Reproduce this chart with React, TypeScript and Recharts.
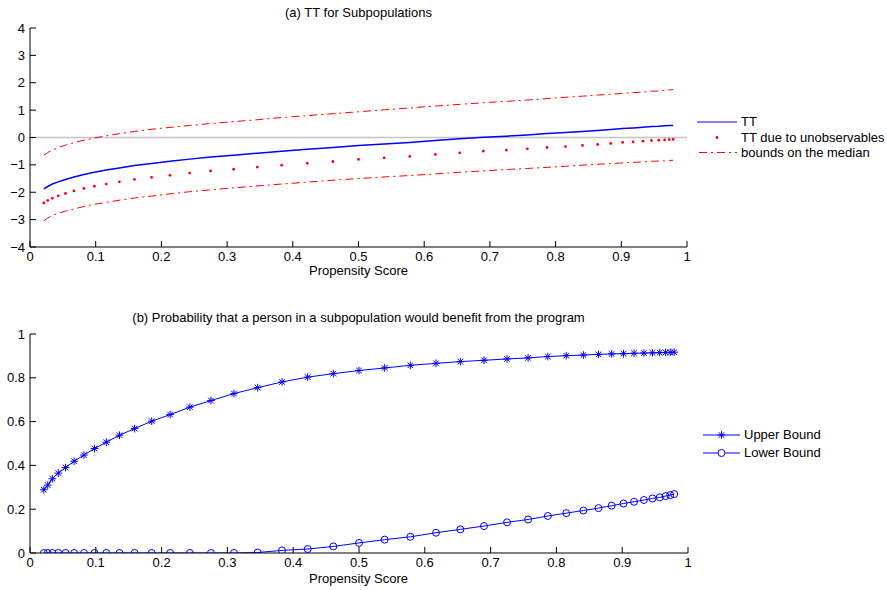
import React from 'react';
import { LineChart, Line, XAxis, YAxis, ReferenceLine } from 'recharts';

const propensity = [0.021, 0.027, 0.034, 0.043, 0.054, 0.067, 0.082, 0.098, 0.116, 0.136, 0.159, 0.185, 0.213, 0.243, 0.275, 0.31, 0.346, 0.383, 0.422, 0.461, 0.5, 0.539, 0.578, 0.617, 0.654, 0.69, 0.725, 0.757, 0.787, 0.815, 0.841, 0.864, 0.884, 0.902, 0.918, 0.933, 0.946, 0.957, 0.966, 0.973, 0.979];

const ttValues = [-1.88, -1.79, -1.7, -1.62, -1.535, -1.44, -1.35, -1.27, -1.19, -1.11, -1.02, -0.95, -0.87, -0.79, -0.71, -0.65, -0.575, -0.5, -0.43, -0.365, -0.29, -0.235, -0.18, -0.11, -0.05, 0.01, 0.05, 0.095, 0.145, 0.18, 0.22, 0.255, 0.29, 0.33, 0.35, 0.375, 0.4, 0.41, 0.425, 0.435, 0.44];

const ttUnobservables = [-2.39, -2.3, -2.215, -2.13, -2.045, -1.95, -1.86, -1.78, -1.7, -1.62, -1.53, -1.46, -1.38, -1.3, -1.22, -1.16, -1.08, -1.01, -0.938, -0.876, -0.8, -0.744, -0.69, -0.62, -0.56, -0.5, -0.46, -0.415, -0.365, -0.33, -0.29, -0.255, -0.22, -0.18, -0.16, -0.135, -0.11, -0.1, -0.087, -0.075, -0.07];

const medianUpper = [-0.65, -0.55, -0.46, -0.37, -0.28, -0.19, -0.1, -0.02, 0.06, 0.14, 0.22, 0.3, 0.37, 0.44, 0.51, 0.58, 0.65, 0.73, 0.8, 0.87, 0.94, 1.01, 1.08, 1.15, 1.21, 1.27, 1.32, 1.37, 1.42, 1.47, 1.51, 1.55, 1.58, 1.61, 1.64, 1.66, 1.69, 1.7, 1.72, 1.74, 1.75];

const medianLower = [-3.04, -2.94, -2.85, -2.77, -2.69, -2.61, -2.52, -2.44, -2.37, -2.29, -2.21, -2.14, -2.06, -1.98, -1.91, -1.84, -1.77, -1.7, -1.63, -1.56, -1.5, -1.44, -1.39, -1.33, -1.27, -1.22, -1.17, -1.13, -1.09, -1.05, -1.01, -0.98, -0.95, -0.93, -0.91, -0.89, -0.87, -0.86, -0.85, -0.84, -0.83];

const benefitUpper = [0.289, 0.31, 0.339, 0.365, 0.39, 0.419, 0.447, 0.477, 0.506, 0.538, 0.568, 0.602, 0.632, 0.666, 0.696, 0.728, 0.755, 0.781, 0.803, 0.819, 0.833, 0.845, 0.857, 0.866, 0.874, 0.88, 0.886, 0.891, 0.897, 0.901, 0.904, 0.907, 0.909, 0.91, 0.912, 0.913, 0.914, 0.915, 0.916, 0.916, 0.917];

const benefitLower = [0, 0, 0, 0, 0, 0, 0, 0, 0, 0, 0, 0, 0, 0, 0, 0, 0.002, 0.012, 0.018, 0.03, 0.046, 0.061, 0.074, 0.0925, 0.108, 0.123, 0.14, 0.153, 0.169, 0.182, 0.194, 0.205, 0.216, 0.226, 0.234, 0.242, 0.249, 0.254, 0.26, 0.2645, 0.269];

const xTicks = [0, 0.1, 0.2, 0.3, 0.4, 0.5, 0.6, 0.7, 0.8, 0.9, 1];
const yTicksTop = [-4, -3, -2, -1, 0, 1, 2, 3, 4];
const yTicksBottom = [0, 0.2, 0.4, 0.6, 0.8, 1];

const titleTop = '(a) TT for Subpopulations';
const titleBottom = '(b) Probability that a person in a subpopulation would benefit from the program';
const xLabel = 'Propensity Score';
const legendTop = ['TT', 'TT due to unobservables', 'bounds on the median'];
const legendBottom = ['Upper Bound', 'Lower Bound'];

const topData = propensity.map((x, i) => ({
  x,
  tt: ttValues[i],
  ttu: ttUnobservables[i],
  ub: medianUpper[i],
  lb: medianLower[i],
}));

const bottomData = propensity.map((x, i) => ({
  x,
  upper: benefitUpper[i],
  lower: benefitLower[i],
}));

const FONT = '"Liberation Sans", Arial, Helvetica, sans-serif';
const FS = 13;
const AXIS = '#000';
const BLUE = '#0000ff';
const RED = '#ff0000';
const TM = 5;
const TICK_LEN = 6;

const fmt = (v: number) => {
  const s = String(Math.round(v * 10) / 10);
  return s.replace('-', '\u2212');
};

const XTick = (props: any) => {
  const { x, y, payload } = props;
  const ay = y - TM;
  return (
    <g>
      <line x1={x} x2={x} y1={ay} y2={ay - TICK_LEN} stroke={AXIS} strokeWidth={1} />
      <text x={x} y={y} dy="0.71em" textAnchor="middle" fontSize={FS} fontFamily={FONT} fill="#000">
        {fmt(payload.value)}
      </text>
    </g>
  );
};

const YTick = (props: any) => {
  const { x, y, payload } = props;
  const ax = x + TM;
  return (
    <g>
      <line x1={ax} x2={ax + TICK_LEN} y1={y} y2={y} stroke={AXIS} strokeWidth={1} />
      <text x={x} y={y} dy="0.355em" textAnchor="end" fontSize={FS} fontFamily={FONT} fill="#000">
        {fmt(payload.value)}
      </text>
    </g>
  );
};

const RedDot = (props: any) => {
  const { cx, cy, index } = props;
  if (cx == null || cy == null) return <g key={index} />;
  return <circle key={index} cx={cx} cy={cy} r={1.4} fill={RED} stroke="none" />;
};

const Star = (props: any) => {
  const { cx, cy, index } = props;
  if (cx == null || cy == null) return <g key={index} />;
  const a = 3.8;
  const d = 2.8;
  return (
    <g key={index} stroke={BLUE} strokeWidth={1}>
      <line x1={cx - a} x2={cx + a} y1={cy} y2={cy} />
      <line x1={cx} x2={cx} y1={cy - a} y2={cy + a} />
      <line x1={cx - d} x2={cx + d} y1={cy - d} y2={cy + d} />
      <line x1={cx - d} x2={cx + d} y1={cy + d} y2={cy - d} />
    </g>
  );
};

const Ring = (props: any) => {
  const { cx, cy, index } = props;
  if (cx == null || cy == null) return <g key={index} />;
  return <circle key={index} cx={cx} cy={cy} r={3.5} fill="none" stroke={BLUE} strokeWidth={1} />;
};

const textStyle: React.CSSProperties = {
  position: 'absolute',
  fontFamily: FONT,
  fontSize: FS,
  color: '#000',
  whiteSpace: 'nowrap',
  lineHeight: '15px',
};

const DASHDOT = '8 4 2 4';

export default function App() {
  return (
    <div style={{ position: 'absolute', left: 0, top: 0, width: 887, height: 590, background: '#fff', overflow: 'hidden' }}>
      <div style={{ ...textStyle, left: 30, width: 657, top: 5, textAlign: 'center' }}>{titleTop}</div>
      <div style={{ position: 'absolute', left: 0, top: 0 }}>
        <LineChart width={887} height={300} data={topData} margin={{ top: 28, right: 200, left: 0, bottom: 0 }}>
          <XAxis
            type="number"
            dataKey="x"
            domain={[0, 1]}
            ticks={xTicks}
            interval={0}
            height={53}
            tickSize={0}
            tickMargin={TM}
            tickLine={false}
            axisLine={{ stroke: AXIS, strokeWidth: 1 }}
            tick={<XTick />}
            allowDataOverflow
          />
          <YAxis
            type="number"
            domain={[-4, 4]}
            ticks={yTicksTop}
            interval={0}
            width={30}
            tickSize={0}
            tickMargin={TM}
            tickLine={false}
            axisLine={{ stroke: AXIS, strokeWidth: 1 }}
            tick={<YTick />}
            allowDataOverflow
          />
          <ReferenceLine y={0} stroke="#c4c4c4" strokeWidth={1.5} ifOverflow="extendDomain" />
          <Line type="linear" dataKey="ub" stroke={RED} strokeWidth={1} strokeDasharray={DASHDOT} dot={false} isAnimationActive={false} />
          <Line type="linear" dataKey="lb" stroke={RED} strokeWidth={1} strokeDasharray={DASHDOT} dot={false} isAnimationActive={false} />
          <Line type="linear" dataKey="tt" stroke={BLUE} strokeWidth={1.5} dot={false} isAnimationActive={false} />
          <Line type="linear" dataKey="ttu" stroke="none" strokeWidth={0} dot={<RedDot />} isAnimationActive={false} />
        </LineChart>
      </div>
      <div style={{ ...textStyle, left: 30, width: 657, top: 263, textAlign: 'center' }}>{xLabel}</div>

      <svg style={{ position: 'absolute', left: 690, top: 110 }} width={60} height={55}>
        <line x1={7} x2={47} y1={12} y2={12} stroke={BLUE} strokeWidth={1} />
        <circle cx={27} cy={27.5} r={1.4} fill={RED} />
        <line x1={7} x2={47} y1={42.5} y2={42.5} stroke={RED} strokeWidth={1} strokeDasharray="8 4 2 4" strokeDashoffset={-2} />
      </svg>
      <div style={{ ...textStyle, left: 741, top: 114 }}>{legendTop[0]}</div>
      <div style={{ ...textStyle, left: 741, top: 130 }}>{legendTop[1]}</div>
      <div style={{ ...textStyle, left: 741, top: 145 }}>{legendTop[2]}</div>

      <div style={{ ...textStyle, left: 30, width: 657, top: 310, textAlign: 'center' }}>{titleBottom}</div>
      <div style={{ position: 'absolute', left: 0, top: 300 }}>
        <LineChart width={887} height={290} data={bottomData} margin={{ top: 34, right: 199, left: 0, bottom: 0 }}>
          <XAxis
            type="number"
            dataKey="x"
            domain={[0, 1]}
            ticks={xTicks}
            interval={0}
            height={37}
            tickSize={0}
            tickMargin={TM}
            tickLine={false}
            axisLine={{ stroke: AXIS, strokeWidth: 1 }}
            tick={<XTick />}
            allowDataOverflow
          />
          <YAxis
            type="number"
            domain={[0, 1]}
            ticks={yTicksBottom}
            interval={0}
            width={30}
            tickSize={0}
            tickMargin={TM}
            tickLine={false}
            axisLine={{ stroke: AXIS, strokeWidth: 1 }}
            tick={<YTick />}
            allowDataOverflow
          />
          <Line type="linear" dataKey="upper" stroke={BLUE} strokeWidth={1} dot={<Star />} isAnimationActive={false} />
          <Line type="linear" dataKey="lower" stroke={BLUE} strokeWidth={1} dot={<Ring />} isAnimationActive={false} />
        </LineChart>
      </div>
      <div style={{ ...textStyle, left: 30, width: 657, top: 571, textAlign: 'center' }}>{xLabel}</div>

      <svg style={{ position: 'absolute', left: 695, top: 425 }} width={50} height={40}>
        <line x1={8} x2={45} y1={10} y2={10} stroke={BLUE} strokeWidth={1} />
        <Star cx={26.5} cy={10} index={0} />
        <line x1={8} x2={45} y1={28} y2={28} stroke={BLUE} strokeWidth={1} />
        <circle cx={26.5} cy={28} r={3.5} fill="#fff" stroke={BLUE} strokeWidth={1} />
      </svg>
      <div style={{ ...textStyle, left: 744, top: 427 }}>{legendBottom[0]}</div>
      <div style={{ ...textStyle, left: 744, top: 445 }}>{legendBottom[1]}</div>
    </div>
  );
}
